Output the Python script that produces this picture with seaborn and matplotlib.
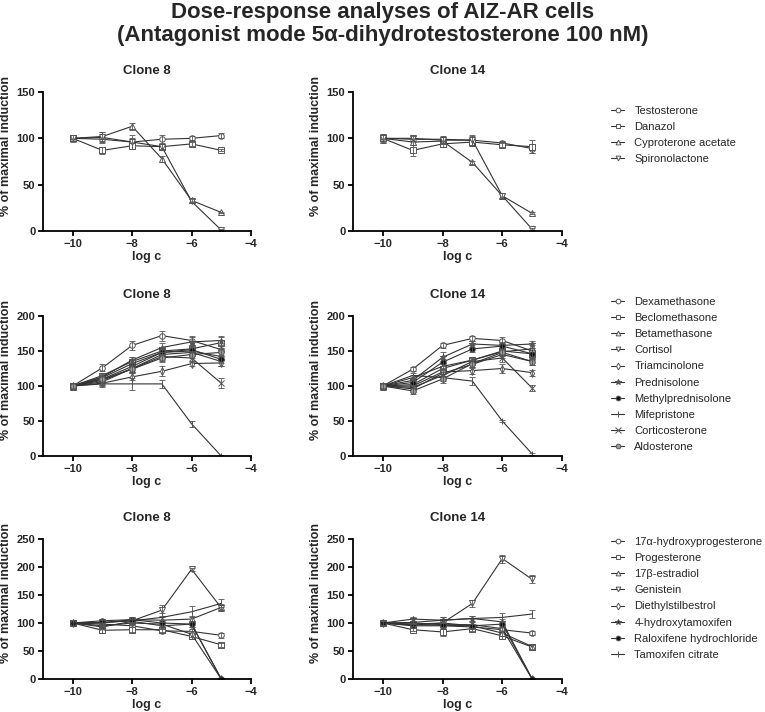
import numpy as np
import pandas as pd
import matplotlib
matplotlib.use("Agg")
import matplotlib.pyplot as plt
import seaborn as sns

sns.set_theme(style="ticks")
plt.rcParams['font.family'] = ['Liberation Sans', 'DejaVu Sans']

# ---------------- data ----------------
log_c = [-10, -9, -8, -7, -6, -5]

row1_names = ["Testosterone", "Danazol", "Cyproterone acetate", "Spironolactone"]
row1_c8 = [
    [100, 99, 96, 99, 100, 103],
    [100, 87, 92, 91, 94, 87],
    [100, 102, 113, 78, 33, 20],
    [100, 101, 96, 91, 32, 1],
]
row1_c8_err = [
    [3, 3, 4, 5, 2, 3],
    [3, 4, 3, 3, 2, 1],
    [3, 5, 4, 3, 2, 1],
    [4, 6, 8, 4, 2, 1],
]
row1_c14 = [
    [100, 99, 99, 98, 95, 89],
    [100, 87, 94, 96, 93, 91],
    [100, 96, 97, 74, 38, 19],
    [100, 100, 98, 98, 38, 2],
]
row1_c14_err = [
    [5, 3, 3, 6, 2, 5],
    [5, 6, 3, 4, 2, 7],
    [3, 3, 2, 2, 2, 1],
    [4, 3, 3, 5, 3, 1],
]

row2_names = ["Dexamethasone", "Beclomethasone", "Betamethasone", "Cortisol",
              "Triamcinolone", "Prednisolone", "Methylprednisolone",
              "Mifepristone", "Corticosterone", "Aldosterone"]
row2_c8 = [
    [100, 126, 158, 172, 165, 152],
    [100, 115, 135, 150, 153, 162],
    [100, 112, 132, 148, 150, 142],
    [100, 108, 125, 145, 148, 135],
    [100, 104, 113, 121, 132, 133],
    [100, 113, 137, 155, 163, 165],
    [100, 110, 128, 148, 152, 138],
    [100, 103, 103, 103, 46, 0],
    [100, 106, 125, 142, 140, 104],
    [100, 110, 124, 140, 145, 148],
]
row2_c8_err = [
    [5, 5, 6, 7, 6, 7],
    [5, 4, 6, 6, 5, 8],
    [4, 4, 5, 5, 5, 6],
    [4, 4, 5, 5, 5, 6],
    [4, 4, 5, 7, 4, 5],
    [5, 4, 5, 6, 7, 6],
    [4, 4, 5, 5, 6, 5],
    [4, 5, 8, 6, 4, 1],
    [4, 4, 5, 6, 5, 7],
    [4, 4, 5, 6, 5, 5],
]
row2_c14 = [
    [100, 124, 158, 168, 165, 150],
    [100, 102, 125, 137, 150, 146],
    [100, 112, 128, 137, 149, 153],
    [100, 96, 118, 131, 145, 135],
    [100, 100, 120, 122, 125, 119],
    [100, 108, 141, 160, 158, 160],
    [100, 105, 134, 153, 157, 146],
    [100, 115, 112, 107, 50, 3],
    [100, 98, 115, 135, 140, 97],
    [100, 93, 110, 132, 148, 135],
]
row2_c14_err = [
    [5, 3, 3, 4, 5, 5],
    [5, 4, 6, 5, 5, 5],
    [4, 4, 5, 5, 5, 5],
    [4, 4, 5, 5, 5, 5],
    [4, 4, 6, 5, 7, 4],
    [4, 4, 8, 4, 5, 5],
    [4, 4, 5, 5, 5, 5],
    [4, 4, 5, 6, 2, 1],
    [4, 4, 5, 5, 5, 4],
    [4, 4, 5, 5, 5, 5],
]

row3_names = ["17\u03b1-hydroxyprogesterone", "Progesterone", "17\u03b2-estradiol",
              "Genistein", "Diethylstilbestrol", "4-hydroxytamoxifen",
              "Raloxifene hydrochloride", "Tamoxifen citrate"]
row3_c8 = [
    [100, 98, 95, 86, 85, 78],
    [100, 87, 88, 88, 76, 61],
    [100, 100, 106, 105, 107, 128],
    [100, 101, 104, 123, 196, 127],
    [100, 95, 100, 98, 80, 0],
    [100, 93, 103, 95, 98, 0],
    [100, 104, 106, 100, 98, 0],
    [100, 101, 104, 110, 120, 135],
]
row3_c8_err = [
    [6, 4, 4, 4, 4, 4],
    [6, 4, 4, 4, 4, 3],
    [6, 4, 5, 5, 6, 6],
    [6, 4, 5, 10, 3, 6],
    [6, 4, 4, 5, 5, 1],
    [6, 4, 4, 5, 6, 1],
    [6, 4, 4, 5, 6, 1],
    [6, 4, 4, 8, 10, 7],
]
row3_c14 = [
    [100, 95, 95, 93, 88, 82],
    [100, 88, 84, 90, 77, 57],
    [100, 96, 100, 95, 82, 58],
    [100, 98, 100, 135, 215, 178],
    [100, 100, 97, 97, 90, 0],
    [100, 107, 105, 108, 102, 0],
    [100, 97, 96, 95, 98, 0],
    [100, 101, 105, 108, 110, 116],
]
row3_c14_err = [
    [4, 3, 3, 4, 4, 3],
    [4, 3, 7, 4, 5, 4],
    [4, 3, 4, 4, 5, 4],
    [4, 3, 6, 6, 7, 7],
    [4, 3, 4, 4, 5, 1],
    [4, 3, 5, 5, 6, 1],
    [4, 3, 4, 4, 5, 1],
    [4, 3, 5, 5, 8, 7],
]

row_ylims = [150, 200, 250]

# ---------------- styles ----------------
GRAY = "#333333"
EDGE = "#555555"
row1_styles = [("o", "white"), ("s", "white"), ("^", "white"), ("v", "white")]
row2_styles = [("o", "white"), ("s", "white"), ("^", "white"), ("v", "white"),
               ("d", "white"), ("*", EDGE), ("o", "#111111"), ("|", EDGE),
               ("x", EDGE), ("o", "#9a9a9a")]
row3_styles = [("o", "white"), ("s", "white"), ("^", "white"), ("v", "white"),
               ("d", "white"), ("*", "#222222"), ("o", "#111111"), ("|", EDGE)]

rows = [
    (row1_names, row1_c8, row1_c8_err, row1_c14, row1_c14_err, row1_styles),
    (row2_names, row2_c8, row2_c8_err, row2_c14, row2_c14_err, row2_styles),
    (row3_names, row3_c8, row3_c8_err, row3_c14, row3_c14_err, row3_styles),
]

W, H = 765, 712
fig = plt.figure(figsize=(W / 100, H / 100), dpi=100)

# pixel boxes: (top of axis, bottom of axis)
row_px = [(92, 231), (316, 456), (539, 679)]
col_px = [(43, 251), (353, 562)]
legend_top = [106, 297, 537]


def draw_panel(ax, names, data, errs, styles, ymax, title):
    for name, vals, err, (mk, fc) in zip(names, data, errs, styles):
        df = pd.DataFrame({"log c": log_c, "val": vals})
        ms = 4 if mk not in ("*", "|", "x") else 5
        sns.lineplot(data=df, x="log c", y="val", ax=ax, color=GRAY, linewidth=0.8,
                     marker=mk, markersize=ms, markerfacecolor=fc,
                     markeredgecolor=EDGE, markeredgewidth=0.7, label=name,
                     legend=False)
        ax.errorbar(log_c, vals, yerr=err, fmt="none", ecolor="#555555",
                    elinewidth=0.6, capsize=2, capthick=0.6)
    ax.set_xlim(-11, -4)
    ax.set_ylim(0, ymax)
    ax.set_xticks([-10, -8, -6, -4])
    ax.set_yticks(np.arange(0, ymax + 1, 50))
    sns.despine(ax=ax)
    for s in ("left", "bottom"):
        ax.spines[s].set_linewidth(1.3)
        ax.spines[s].set_color("black")
    ax.tick_params(axis="both", length=3.5, width=1.3, labelsize=8, pad=2,
                   color="black")
    for lbl in ax.get_xticklabels() + ax.get_yticklabels():
        lbl.set_fontweight("bold")
    ax.set_xlabel("log c", fontsize=9, fontweight="bold", labelpad=1.5)
    ax.set_ylabel("% of maximal induction", fontsize=9, fontweight="bold")
    ax.yaxis.set_label_coords(-0.148, 0.615)
    ax.set_title(title, fontsize=9.5, fontweight="bold", pad=13)


for r, (names, d8, e8, d14, e14, styles) in enumerate(rows):
    top, bot = row_px[r]
    axes = []
    for c, (data, errs, title) in enumerate([(d8, e8, "Clone 8"), (d14, e14, "Clone 14")]):
        l, rgt = col_px[c]
        ax = fig.add_axes([l / W, 1 - bot / H, (rgt - l) / W, (bot - top) / H])
        draw_panel(ax, names, data, errs, styles, row_ylims[r], title)
        axes.append(ax)
    handles, labels = axes[1].get_legend_handles_labels()
    fig.legend(handles, labels, loc="upper left",
               bbox_to_anchor=(611 / W, 1 - legend_top[r] / H),
               frameon=False, fontsize=8, handlelength=1.2, handletextpad=0.9,
               labelspacing=0.55, borderpad=0, borderaxespad=0, markerscale=0.85)

fig.text(0.5, 1 - 2 / H,
         "Dose-response analyses of AIZ-AR cells\n(Antagonist mode 5\u03b1-dihydrotestosterone 100 nM)",
         ha="center", va="top", fontsize=16, fontweight="bold", linespacing=1.12)

fig.savefig("out.png", dpi=100)
